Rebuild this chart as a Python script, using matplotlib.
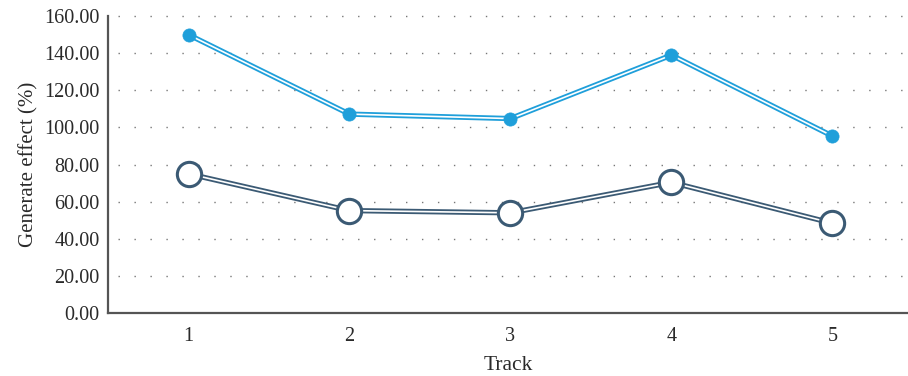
import matplotlib
matplotlib.use("Agg")
import matplotlib.pyplot as plt

tracks = [1, 2, 3, 4, 5]
series_upper = [150.0, 107.2, 104.8, 139.0, 95.4]
series_lower = [75.0, 55.2, 54.0, 70.4, 48.4]
y_ticks = [0, 20, 40, 60, 80, 100, 120, 140, 160]
y_tick_labels = [f"{v:.2f}" for v in y_ticks]

plt.rcParams['font.family'] = ['Liberation Serif', 'DejaVu Serif']

fig = plt.figure(figsize=(9.08, 3.76), dpi=100)
ax = fig.add_axes([0.119, 0.1676, 0.881, 0.7894])

blue = "#1f9fda"
dark = "#3b5a74"


def double_line(x, y, color, zo):
    ax.plot(x, y, color=color, lw=3.8, zorder=zo)
    ax.plot(x, y, color="white", lw=1.2, zorder=zo + 0.1)


double_line(tracks, series_upper, blue, 3)
double_line(tracks, series_lower, dark, 3)
ax.plot(tracks, series_upper, ls="none", marker="o", ms=9.5,
        mfc=blue, mec=blue, mew=0.5, zorder=5)
ax.plot(tracks, series_lower, ls="none", marker="o", ms=17.5,
        mfc="white", mec=dark, mew=2.2, zorder=5)

ax.set_xlim(0.5, 5.47)
ax.set_ylim(0, 160)
ax.set_xticks(tracks)
ax.set_xticklabels([str(t) for t in tracks])
ax.set_yticks(y_ticks)
ax.set_yticklabels(y_tick_labels)

for v in y_ticks[1:]:
    ax.plot([0.56, 5.47], [v, v], color="#777777", lw=1.0,
            ls=(0, (1, 10.5)), zorder=1, clip_on=False)

ax.tick_params(axis="both", length=0, labelsize=14.5, colors="#2a2a2a")
ax.tick_params(axis="x", pad=10)
ax.tick_params(axis="y", pad=6)

for side in ("top", "right"):
    ax.spines[side].set_visible(False)
for side in ("left", "bottom"):
    ax.spines[side].set_color("#555555")
    ax.spines[side].set_linewidth(1.6)

ax.set_xlabel("Track", fontsize=15.5, color="#2a2a2a", labelpad=7)
ax.set_ylabel("Generate effect (%)", fontsize=15, color="#2a2a2a", labelpad=4)

fig.savefig("out.png", dpi=100)
